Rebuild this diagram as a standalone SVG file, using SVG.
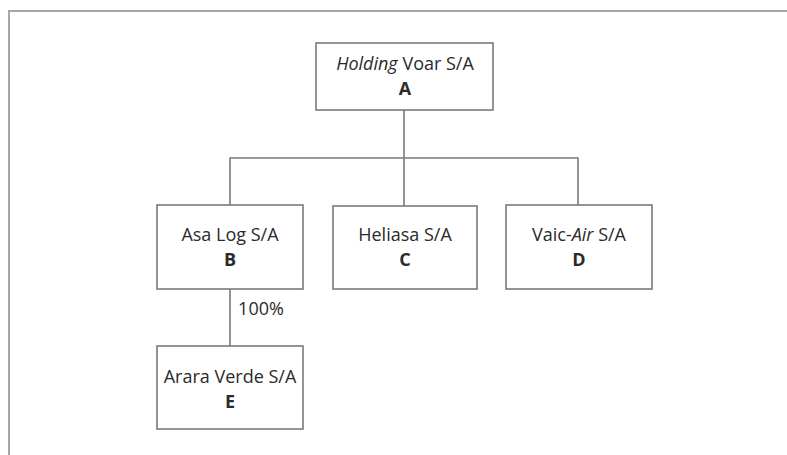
<svg xmlns="http://www.w3.org/2000/svg" width="787" height="455" viewBox="0 0 787 455">
<style>
.box{fill:#fff;stroke:#7a7a7a;stroke-width:1.6}
.ln{fill:none;stroke:#7a7a7a;stroke-width:1.6}
.frame{fill:none;stroke:#a6a6a6;stroke-width:2}
text{font-family:"Open Sans","Noto Sans",sans-serif;font-size:18px;fill:#2a2a2a;text-anchor:middle}
.b{font-weight:bold}
</style>
<rect width="787" height="455" fill="#fff"/>
<path class="frame" d="M9 460 V11 H790"/>
<g id="connectors">
<path class="ln" d="M404 110 V158 M230 205 V158 H578 V205 M404 158 V206 M230 289 V346"/>
<text x="261" y="315">100%</text>
</g>
<g id="A">
<rect class="box" x="316" y="43" width="177" height="67"/>
<text x="405" y="70"><tspan font-style="italic">Holding</tspan> Voar S/A</text>
<text class="b" x="405" y="95">A</text>
</g>
<g id="B">
<rect class="box" x="157" y="205" width="146" height="84"/>
<text x="230" y="241">Asa Log S/A</text>
<text class="b" x="230" y="266">B</text>
</g>
<g id="C">
<rect class="box" x="333" y="206" width="144" height="83"/>
<text x="405" y="241">Heliasa S/A</text>
<text class="b" x="405" y="266">C</text>
</g>
<g id="D">
<rect class="box" x="506" y="205" width="146" height="84"/>
<text x="579" y="241">Vaic-<tspan font-style="italic">Air</tspan> S/A</text>
<text class="b" x="579" y="266">D</text>
</g>
<g id="E">
<rect class="box" x="157" y="346" width="146" height="83"/>
<text x="230" y="383">Arara Verde S/A</text>
<text class="b" x="230" y="408">E</text>
</g>
</svg>
